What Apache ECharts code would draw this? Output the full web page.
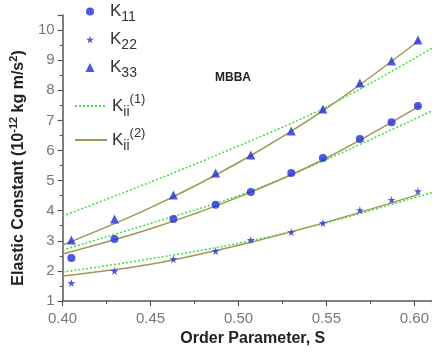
<!DOCTYPE html>
<html><head><meta charset="utf-8">
<script src="https://cdn.jsdelivr.net/npm/echarts@6/dist/echarts.min.js"></script>
<style>html,body{margin:0;padding:0;background:#fff}#c{width:432px;height:354px}</style>
</head><body><div id="c"></div>
<script>
// Measured data (Order parameter S vs elastic constant)
var S_pts = [0.405, 0.4295, 0.463, 0.487, 0.507, 0.530, 0.548, 0.569, 0.587, 0.602];
var K11 = [2.43, 3.06, 3.72, 4.20, 4.62, 5.25, 5.75, 6.38, 6.94, 7.48];
var K22 = [1.60, 2.00, 2.39, 2.66, 3.03, 3.29, 3.59, 4.02, 4.36, 4.65];
var K33 = [3.03, 3.72, 4.52, 5.25, 5.85, 6.65, 7.38, 8.24, 8.97, 9.67];

// Fit curves Kii(1) (dotted)
var S_fit1 = [0.40, 0.45, 0.50, 0.55, 0.61];
var K11_fit1 = [2.69, 3.58, 4.50, 5.70, 7.32];
var K22_fit1 = [1.96, 2.40, 2.92, 3.60, 4.60];
var K33_fit1 = [3.82, 4.95, 6.15, 7.45, 9.40];

// Fit curves Kii(2) (solid)
var S_fit2 = [0.40, 0.45, 0.50, 0.55, 0.603];
var K11_fit2 = [2.56, 3.40, 4.45, 5.75, 7.48];
var K22_fit2 = [1.83, 2.22, 2.85, 3.62, 4.55];
var K33_fit2 = [2.86, 4.10, 5.60, 7.40, 9.67];

var xTicks = [0.40, 0.45, 0.50, 0.55, 0.60];

function pairs(xs, ys){ return xs.map(function(x,i){ return [x, ys[i]]; }); }

var blue = '#1f2fe0';
var green = '#3ee03e';
var olive = '#a09852';
var starPath = 'path://M50,0 L61,35 L98,35 L68,57 L79,91 L50,70 L21,91 L32,57 L2,35 L39,35 Z';
var FONT = 'Arial, "Liberation Sans", sans-serif';

function fitLine(name, ys, xs, color, type){
  return {type:'line', name:name, data:pairs(xs, ys), smooth:0.35, showSymbol:false, symbol:'none',
    lineStyle:{color:color, width:1.5, type:type}, itemStyle:{color:color}, z:type==='solid'?3:2, silent:true};
}
function scatter(name, ys, sym, size){
  return {type:'scatter', name:name, data:pairs(S_pts, ys), symbol:sym, symbolSize:size,
    itemStyle:{color:blue}, z:5};
}

var legRich = {
  k:{fontSize:17, lineHeight:26, verticalAlign:'middle', color:'#333', fontFamily:FONT},
  sub:{fontSize:14, lineHeight:14, verticalAlign:'bottom', color:'#333', fontFamily:FONT},
  sup:{fontSize:13, lineHeight:13, verticalAlign:'top', color:'#333', fontFamily:FONT}
};
var legLabels = {
  'K11':'{k|K}{sub|11}', 'K22':'{k|K}{sub|22}', 'K33':'{k|K}{sub|33}',
  'Kii1':'{k|K}{sub|ii}{sup|(1)}', 'Kii2':'{k|K}{sub|ii}{sup|(2)}'
};
var legDefs = [
  {n:'K11', top:3, icon:'circle', w:8, h:8, left:86},
  {n:'K22', top:31, icon:starPath, w:8, h:8, left:86},
  {n:'K33', top:59, icon:'triangle', w:9, h:9, left:85.5},
  {n:'Kii1', top:93, w:32, h:9, left:74},
  {n:'Kii2', top:127, w:32, h:9, left:74}
];
var legends = legDefs.map(function(d){
  var item = {name:d.n};
  if (d.icon) item.icon = d.icon;
  var lg = {data:[item], left:d.left, top:d.top, padding:0, itemWidth:d.w, itemHeight:d.h, itemGap:0,
    selectedMode:false, formatter:function(name){ return legLabels[name]; },
    textStyle:{rich:legRich, padding: d.icon ? [0,0,0,110 - (d.left + d.w + 5)] : 0}};
  if (!d.icon) lg.itemStyle = {opacity:0};
  return lg;
});

var chart = echarts.init(document.getElementById('c'));
chart.setOption({
  animation:false,
  backgroundColor:'#fff',
  legend: legends,
  grid:{left:62, right:0, top:15, bottom:53, containLabel:false},
  xAxis:{type:'value', min:0.40, max:0.61, interval:0.05,
    name:'Order Parameter, S', nameLocation:'middle', nameGap:30,
    nameTextStyle:{fontSize:16, fontWeight:'bold', color:'#222', fontFamily:FONT, padding:[0,0,0,11]},
    axisLine:{show:true, lineStyle:{color:'#555', width:1.5}},
    axisTick:{show:true, inside:false, length:5, lineStyle:{color:'#555', width:1.2}},
    minorTick:{show:true, splitNumber:2, length:3, lineStyle:{color:'#555', width:1}},
    splitLine:{show:false},
    axisLabel:{margin:10, fontSize:15, color:'#777', fontFamily:FONT,
      formatter:function(v){ return v.toFixed(2); }}
  },
  yAxis:{type:'value', min:1, max:10.5, interval:1,
    name:'{t|Elastic Constant (10}{s|-12}{t| kg m/s}{s|2}{t|)}', nameLocation:'middle', nameRotate:90, nameGap:20,
    nameTextStyle:{padding:[0,20,0,0], rich:{
      t:{fontSize:16, fontWeight:'bold', lineHeight:22, verticalAlign:'middle', color:'#222', fontFamily:FONT},
      s:{fontSize:11, fontWeight:'bold', lineHeight:11, verticalAlign:'top', color:'#222', fontFamily:FONT}}},
    axisLine:{show:true, lineStyle:{color:'#555', width:1.5}},
    axisTick:{show:true, inside:false, length:5, lineStyle:{color:'#555', width:1.2}},
    minorTick:{show:true, splitNumber:2, length:3, lineStyle:{color:'#555', width:1}},
    splitLine:{show:false},
    axisLabel:{margin:8, fontSize:15, color:'#777', fontFamily:FONT,
      formatter:function(v){ return v === 10.5 ? '' : String(v); }}
  },
  graphic:[{type:'text', left:215, top:72, style:{text:'MBBA', font:'bold 12px '+FONT, fill:'#222'}}],
  series:[
    fitLine('Kii1', K11_fit1, S_fit1, green, [2,2]),
    fitLine('Kii1', K22_fit1, S_fit1, green, [2,2]),
    fitLine('Kii1', K33_fit1, S_fit1, green, [2,2]),
    fitLine('Kii2', K11_fit2, S_fit2, olive, 'solid'),
    fitLine('Kii2', K22_fit2, S_fit2, olive, 'solid'),
    fitLine('Kii2', K33_fit2, S_fit2, olive, 'solid'),
    scatter('K11', K11, 'circle', 8),
    scatter('K22', K22, starPath, 8),
    scatter('K33', K33, 'triangle', 9)
  ]
});
</script></body></html>
